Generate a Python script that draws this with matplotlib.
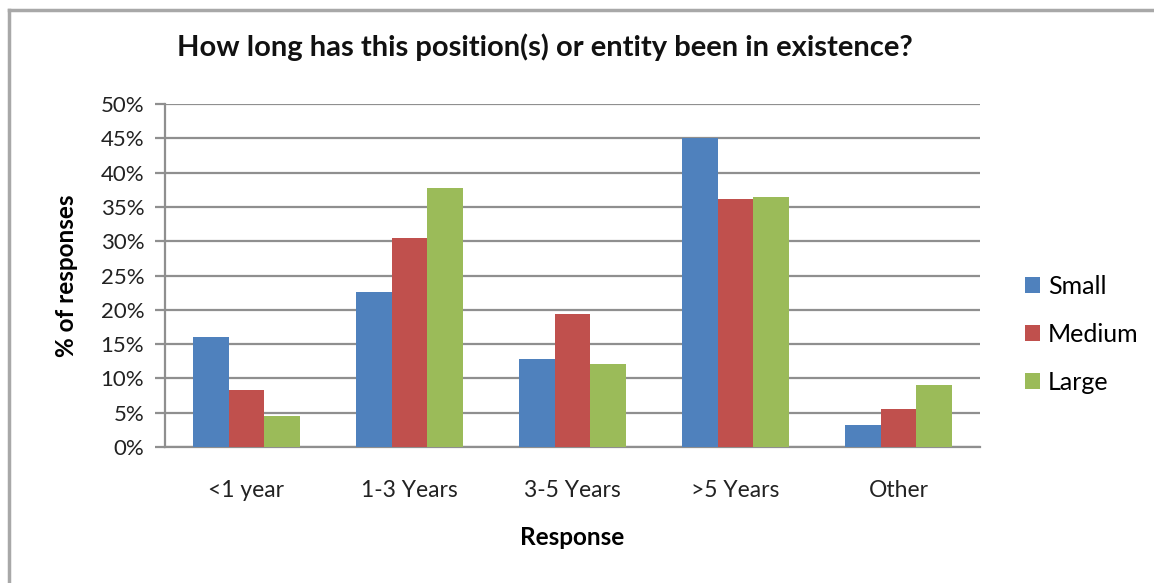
import matplotlib.pyplot as plt
import matplotlib.ticker as mticker
from matplotlib.lines import Line2D
import numpy as np

plt.rcParams['font.family'] = ['Lato', 'DejaVu Sans']

categories = ['<1 year', '1-3 Years', '3-5 Years', '>5 Years', 'Other']
small = [16.0, 22.6, 12.8, 45.1, 3.2]
medium = [8.3, 30.5, 19.4, 36.1, 5.6]
large = [4.5, 37.8, 12.1, 36.4, 9.1]
series = [('Small', small, '#4F81BD'),
          ('Medium', medium, '#C0504D'),
          ('Large', large, '#9BBB59')]

W, H = 1154, 583
fig = plt.figure(figsize=(W / 100, H / 100), dpi=100)
ax = fig.add_axes([165 / W, 1 - 447 / H, 815 / W, 343 / H])

x = np.arange(len(categories))
bw = 0.22
for i, (name, vals, col) in enumerate(series):
    ax.bar(x + (i - 1) * bw, vals, width=bw, color=col, label=name, zorder=3)

ax.set_xlim(-0.5, len(categories) - 0.5)
ax.set_ylim(0, 50)
ax.set_yticks(np.arange(0, 51, 5))
ax.yaxis.set_major_formatter(mticker.FuncFormatter(lambda v, p: f'{v:.0f}%'))
ax.set_xticks(x)
ax.set_xticklabels(categories)

grid_col = '#8f8f8f'
ax.yaxis.grid(True, color=grid_col, linewidth=1.6, zorder=0)
for s in ['top', 'right']:
    ax.spines[s].set_visible(False)
for s in ['left', 'bottom']:
    ax.spines[s].set_color(grid_col)
    ax.spines[s].set_linewidth(1.6)
ax.tick_params(axis='y', length=7, width=1.6, color=grid_col, labelsize=16,
               labelcolor='#222222', pad=8)
ax.tick_params(axis='x', length=0, labelsize=16.5, labelcolor='#222222', pad=24)

ax.set_ylabel('% of responses', fontsize=17.5, fontweight='bold', labelpad=16)
ax.set_xlabel('Response', fontsize=17.5, fontweight='bold', labelpad=18)
fig.text(545 / W, 1 - 47 / H, 'How long has this position(s) or entity been in existence?',
         ha='center', va='center', fontsize=21, fontweight='bold', color='#111111')

ax.legend(loc='center left', bbox_to_anchor=(1012 / W, 1 - 334 / H),
          bbox_transform=fig.transFigure, frameon=False, fontsize=18,
          handlelength=0.6, handleheight=0.6, handletextpad=0.35,
          labelspacing=1.0, borderpad=0)

# outer frame: left and top edges only
fig.add_artist(Line2D([9 / W, 9 / W], [0, 1 - 10 / H], color='#a8a8a8', lw=2.5,
                      transform=fig.transFigure))
fig.add_artist(Line2D([9 / W, 1], [1 - 10 / H, 1 - 10 / H], color='#a8a8a8', lw=2.5,
                      transform=fig.transFigure))

fig.savefig('out.png', dpi=100)
